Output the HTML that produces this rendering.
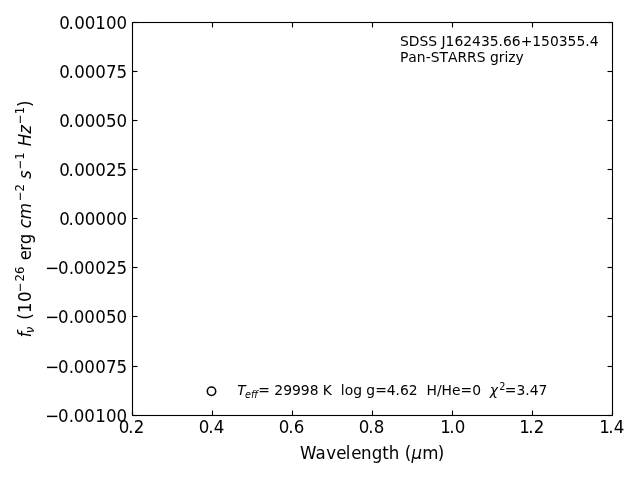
<!DOCTYPE html>
<html lang="en">
<head>
<meta charset="utf-8">
<title>SDSS J162435.66+150355.4</title>
<style>
html,body{margin:0;padding:0;background:#fff;}
body{width:640px;height:480px;overflow:hidden;}
svg{display:block;}
text{font-family:"DejaVu Sans","Liberation Sans",sans-serif;fill:#000;white-space:pre;}
.t12{font-size:16.667px;}
.t10{font-size:13.889px;}
.s12{font-size:11.667px;}
.s10{font-size:9.722px;}
.i{font-style:oblique;}
.nk{font-kerning:none;}
.ln{stroke:#000;stroke-width:1.11;fill:none;}
</style>
</head>
<body>
<svg width="640" height="480" viewBox="0 0 640 480">
<rect x="0" y="0" width="640" height="480" fill="#fff"/>
<g class="ln">
<path d="M132.50 415.50V410.50"/><path d="M132.50 22.50V27.50"/>
<path d="M212.50 415.50V410.50"/><path d="M212.50 22.50V27.50"/>
<path d="M292.50 415.50V410.50"/><path d="M292.50 22.50V27.50"/>
<path d="M372.50 415.50V410.50"/><path d="M372.50 22.50V27.50"/>
<path d="M452.50 415.50V410.50"/><path d="M452.50 22.50V27.50"/>
<path d="M532.50 415.50V410.50"/><path d="M532.50 22.50V27.50"/>
<path d="M612.50 415.50V410.50"/><path d="M612.50 22.50V27.50"/>
<path d="M132.50 22.50H137.50"/><path d="M612.50 22.50H607.50"/>
<path d="M132.50 71.50H137.50"/><path d="M612.50 71.50H607.50"/>
<path d="M132.50 120.50H137.50"/><path d="M612.50 120.50H607.50"/>
<path d="M132.50 169.50H137.50"/><path d="M612.50 169.50H607.50"/>
<path d="M132.50 218.50H137.50"/><path d="M612.50 218.50H607.50"/>
<path d="M132.50 267.50H137.50"/><path d="M612.50 267.50H607.50"/>
<path d="M132.50 316.50H137.50"/><path d="M612.50 316.50H607.50"/>
<path d="M132.50 366.50H137.50"/><path d="M612.50 366.50H607.50"/>
<path d="M132.50 415.50H137.50"/><path d="M612.50 415.50H607.50"/>
<rect x="132.50" y="22.50" width="480.00" height="393.00" stroke-linejoin="miter"/>
</g>
<g class="t12">
<text transform="translate(118.75 433) scale(1 1.075)" dx="0 -1 0">0.2</text>
<text transform="translate(198.75 433) scale(1 1.075)" dx="0 -1 0">0.4</text>
<text transform="translate(278.75 433) scale(1 1.075)" dx="0 -1 0">0.6</text>
<text transform="translate(358.75 433) scale(1 1.075)" dx="0 -1 0">0.8</text>
<text transform="translate(438.75 433) scale(1 1.075)" dx="1.5 -1.5 0">1.0</text>
<text transform="translate(517.75 433) scale(1 1.075)" dx="1.5 -1.5 0">1.2</text>
<text transform="translate(597.75 433) scale(1 1.075)" dx="1.5 -1.5 0">1.4</text>
</g>
<g class="t12" text-anchor="end">
<text transform="translate(127.2 29.00) scale(1 1.075)" dx="0 -1.3 0.3 0 0 0 0">0.00100</text>
<text transform="translate(127.2 78.00) scale(1 1.075)" dx="0 -1.3 0.3 0 0 0 0">0.00075</text>
<text transform="translate(127.2 127.00) scale(1 1.075)" dx="0 -1.3 0.3 0 0 0 0">0.00050</text>
<text transform="translate(127.2 176.00) scale(1 1.075)" dx="0 -1.3 0.3 0 0 0 0">0.00025</text>
<text transform="translate(127.2 225.00) scale(1 1.075)" dx="0 -1.3 0.3 0 0 0 0">0.00000</text>
<text transform="translate(127.2 274.00) scale(1 1.075)" dx="0 -1.3 0.3 -0.5 0 0.25 0.15 0.1">−0.00025</text>
<text transform="translate(127.2 323.00) scale(1 1.075)" dx="0 -1.3 0.3 -0.5 0 0.25 0.15 0.1">−0.00050</text>
<text transform="translate(127.2 373.00) scale(1 1.075)" dx="0 -1.3 0.3 -0.5 0 0.25 0.15 0.1">−0.00075</text>
<text transform="translate(127.2 422.00) scale(1 1.075)" dx="0 -1.3 0.3 -0.5 0 0.25 0.15 0.1">−0.00100</text>
</g>
<text class="t12" transform="translate(300 459) scale(1 1.075)" dx="0 0 0.7 0 -0.6 0.8 -0.6 0.2 0 0 0 0">Wavelength (<tspan class="i" dx="0.2">μ</tspan><tspan dx="0.2 -0.7">m)</tspan></text>
<text class="t12" transform="translate(30.6 337.5) rotate(-90) scale(1 1.075)"><tspan class="i">f</tspan><tspan class="s12 i" dy="2.7" dx="-1.6">ν</tspan><tspan dy="-2.7" dx="1.6 0 0.4 0.4"> (10</tspan><tspan class="s12" dy="-6.4" dx="-0.9 1 0">−26</tspan><tspan dy="6.4" dx="1 0 -0.8 0 0"> erg </tspan><tspan class="i">cm</tspan><tspan class="s12" dy="-6.4" dx="1.8 0">−2</tspan><tspan dy="6.4"> </tspan><tspan class="i" dx="-0.3">s</tspan><tspan class="s12" dy="-6.4" dx="0.8 0">−1</tspan><tspan dy="6.4"> </tspan><tspan class="i" dx="0.7 0">Hz</tspan><tspan class="s12" dy="-6.4" dx="0.8 0">−1</tspan><tspan dy="6.4">)</tspan></text>
<text class="t10" x="400" y="46">SDSS J162435.66+150355.4</text>
<text class="t10 nk" x="400" y="62">Pan-STARRS grizy</text>
<circle cx="211.5" cy="391.3" r="4.2" fill="#fff" stroke="#000" stroke-width="1.55"/>
<text class="t10" x="237.3" y="394.9"><tspan class="i">T</tspan><tspan class="s10 i" dy="2.9" dx="-0.8 0 0">eff</tspan><tspan dy="-2.9" dx="0.3">= 29998 K  log g=4.62  H/He=0  </tspan><tspan class="i">χ</tspan><tspan class="s10" dy="-4.7" dx="1.1">2</tspan><tspan dy="4.7" dx="-0.5">=3.47</tspan></text>
</svg>
</body>
</html>
